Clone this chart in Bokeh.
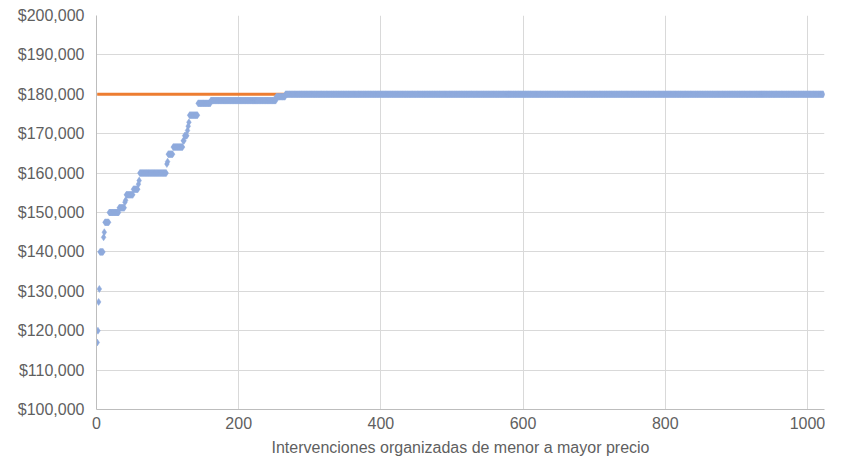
import numpy as np
from bokeh.plotting import figure
from bokeh.models import Range1d, NumeralTickFormatter, FixedTicker
from bokeh.embed import file_html
from bokeh.resources import INLINE

# Step levels of the sorted prices (value, number of interventions at that value)
price_levels = [117000, 120000, 127300, 130600, 140000, 143700, 145000, 147500,
                150000, 151200, 152600, 153100, 154500, 155900, 157200, 158100,
                160000, 162300, 162900, 164800, 166600, 168200, 169500, 170800,
                171900, 172900, 174700, 177700, 178400, 179400, 180000]
level_counts = [1, 1, 1, 1, 5, 1, 1, 6,
                14, 8, 1, 1, 10, 7, 1, 1,
                38, 1, 1, 7, 14, 2, 4, 1,
                1, 1, 12, 18, 92, 13, 757]

# Reference cap line
cap_x = [1, 1022]
cap_y = [180000, 180000]

y_ticks = [100000, 110000, 120000, 130000, 140000, 150000, 160000, 170000,
           180000, 190000, 200000]
x_ticks = [0, 200, 400, 600, 800, 1000]

prices = np.repeat(price_levels, level_counts)
idx = np.arange(1, len(prices) + 1)

FONT = "Liberation Sans"
GREY = "#5F5F5F"

p = figure(width=825, height=459, output_backend="svg", toolbar_location=None,
           x_range=Range1d(0, 1024), y_range=Range1d(100000, 200000))
p.min_border_left = 96
p.min_border_right = 1
p.min_border_top = 15
p.min_border_bottom = 50
p.outline_line_color = None
p.background_fill_color = "white"
p.border_fill_color = "white"

p.line(cap_x, cap_y, line_color="#ED7D31", line_width=3)
p.scatter(idx, prices, marker="diamond", size=7, fill_color="#8FAADC",
          line_color="#8FAADC", line_width=0.5)

# axes
p.yaxis.ticker = FixedTicker(ticks=y_ticks)
p.xaxis.ticker = FixedTicker(ticks=x_ticks)
p.yaxis.formatter = NumeralTickFormatter(format="$0,0")
for ax in (p.xaxis[0], p.yaxis[0]):
    ax.major_tick_line_color = None
    ax.minor_tick_line_color = None
    ax.major_tick_out = 0
    ax.major_tick_in = 0
    ax.axis_line_color = "#BDBDBD"
    ax.axis_line_width = 1
    ax.major_label_text_font = FONT
    ax.major_label_text_font_size = "16px"
    ax.major_label_text_color = GREY
p.yaxis.major_label_standoff = 12
p.xaxis.major_label_standoff = 7
p.xaxis.axis_label = "Intervenciones organizadas de menor a mayor precio"
p.xaxis.axis_label_text_font = FONT
p.xaxis.axis_label_text_font_size = "16px"
p.xaxis.axis_label_text_font_style = "normal"
p.xaxis.axis_label_text_color = GREY
p.xaxis.axis_label_standoff = 7

p.xgrid.ticker = FixedTicker(ticks=x_ticks)
p.ygrid.ticker = FixedTicker(ticks=y_ticks)
p.grid.grid_line_color = "#D9D9D9"
p.grid.grid_line_width = 1

open("out.html", "w").write(file_html(p, INLINE))
